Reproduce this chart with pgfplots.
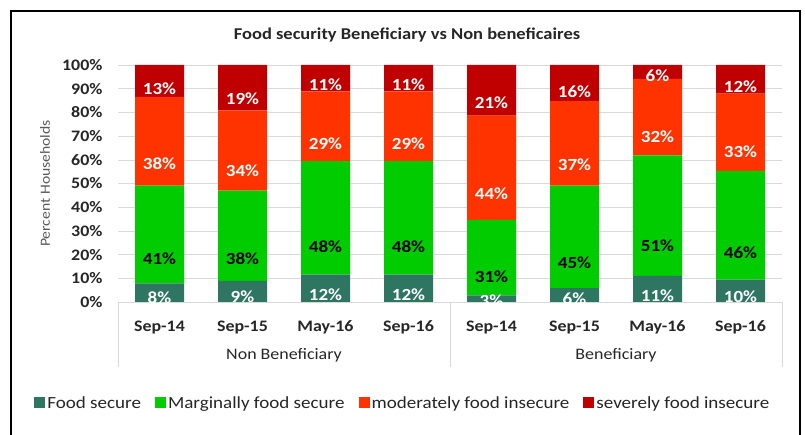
\documentclass[border=0pt]{standalone}
\usepackage{pgfplots}
\pgfplotsset{compat=1.18}
\usepackage{pgfplotstable}
\usepackage{fontspec}
\setmainfont{Carlito}[FakeStretch=1.12]
\definecolor{cFS}{RGB}{46,117,98}
\definecolor{cMFS}{RGB}{0,204,0}
\definecolor{cMod}{RGB}{255,51,0}
\definecolor{cSev}{RGB}{192,0,0}
\definecolor{cGrid}{RGB}{217,217,217}
\definecolor{cText}{RGB}{38,38,38}

\pgfplotstableread{
x fs mfs mod sev lfs lmfs lmod lsev
0 7.9 41.2 37.4 13.5 8 41 38 13
1 8.9 38.1 33.9 19.1 9 38 34 19
2 11.5 47.9 29.5 11.1 12 48 29 11
3 11.5 47.9 29.5 11.1 12 48 29 11
4 2.8 31.8 44.0 21.4 3 31 44 21
5 5.8 43.3 35.7 15.2 6 45 37 16
6 11.0 50.9 32.2 5.9 11 51 32 6
7 9.4 45.9 32.6 12.1 10 46 33 12
}\data

\begin{document}
\begin{tikzpicture}
\path[use as bounding box] (0,0) rectangle (805pt,435pt);
\fill[white] (0,0) rectangle (805pt,435pt);
\draw[line width=2.5pt] (11pt,-5pt) -- (11pt,424pt) -- (800pt,424pt) -- (800pt,-5pt);
\node[font=\fontsize{16.5}{20}\selectfont\bfseries, text=cText] at (407pt,400pt) {Food security Beneficiary vs Non beneficaires};
\begin{axis}[
  at={(118pt,133pt)}, anchor=south west,
  scale only axis, width=664pt, height=237pt,
  clip=false,
  ybar stacked, bar width=49pt,
  xmin=-0.5, xmax=7.5, ymin=0, ymax=100,
  xtick={0,...,7},
  xticklabels={Sep-14,Sep-15,May-16,Sep-16,Sep-14,Sep-15,May-16,Sep-16},
  ytick={0,10,...,100},
  yticklabels={0\%,10\%,20\%,30\%,40\%,50\%,60\%,70\%,80\%,90\%,100\%},
  axis x line*=bottom, axis y line*=left,
  x axis line style={draw=cGrid, -},
  y axis line style={draw=none},
  ymajorgrids, grid style={draw=cGrid},
  major tick length=0pt,
  tick label style={font=\fontsize{16}{19}\selectfont\bfseries, text=cText},
  yticklabel style={xshift=-12pt},
  xticklabel style={yshift=-15pt},
  ylabel={Percent Households},
  ylabel style={at={(axis description cs:-0.110,0.5)}, anchor=center, font=\fontsize{14}{17}\selectfont, text={rgb,255:red,89;green,89;blue,89}},
  visualization depends on={rawy \as \rawy},
  point meta=explicit symbolic,
  nodes near coords={\pgfplotspointmeta\%},
  every node near coord/.append style={anchor=center, yshift=-0.5925pt*\rawy, font=\fontsize{17}{20}\selectfont\bfseries},
  legend style={at={(axis description cs:0.429,-0.426)}, anchor=center, draw=none,
    legend columns=4, font=\fontsize{17}{20}\selectfont, text=cText,
    /tikz/every even column/.append style={column sep=12pt}},
  legend image code/.code={\fill[#1] (0pt,-5.5pt) rectangle (11pt,5.5pt);},
]
\addplot[fill=cFS, draw=none, every node near coord/.append style={text=white}] table[x=x,y=fs,meta=lfs]{\data};
\addplot[fill=cMFS, draw=none, every node near coord/.append style={text=black}] table[x=x,y=mfs,meta=lmfs]{\data};
\addplot[fill=cMod, draw=none, every node near coord/.append style={text=white}] table[x=x,y=mod,meta=lmod]{\data};
\addplot[fill=cSev, draw=none, every node near coord/.append style={text=white}] table[x=x,y=sev,meta=lsev]{\data};
\legend{Food secure, Marginally food secure, moderately food insecure, severely food insecure}
\fill[white] ([yshift=-0.6pt]axis cs:3.6,0) rectangle ([yshift=-13pt]axis cs:4.4,0);
\draw[cGrid] (rel axis cs:0,0) -- ([yshift=-65pt]rel axis cs:0,0);
\draw[cGrid] (rel axis cs:0.5,0) -- ([yshift=-65pt]rel axis cs:0.5,0);
\draw[cGrid] (rel axis cs:1,0) -- ([yshift=-65pt]rel axis cs:1,0);
\node[font=\fontsize{16}{19}\selectfont, text=cText, yshift=-53pt] at (axis cs:1.5,0) {Non Beneficiary};
\node[font=\fontsize{16}{19}\selectfont, text=cText, yshift=-53pt] at (axis cs:5.5,0) {Beneficiary};
\end{axis}
\end{tikzpicture}
\end{document}
